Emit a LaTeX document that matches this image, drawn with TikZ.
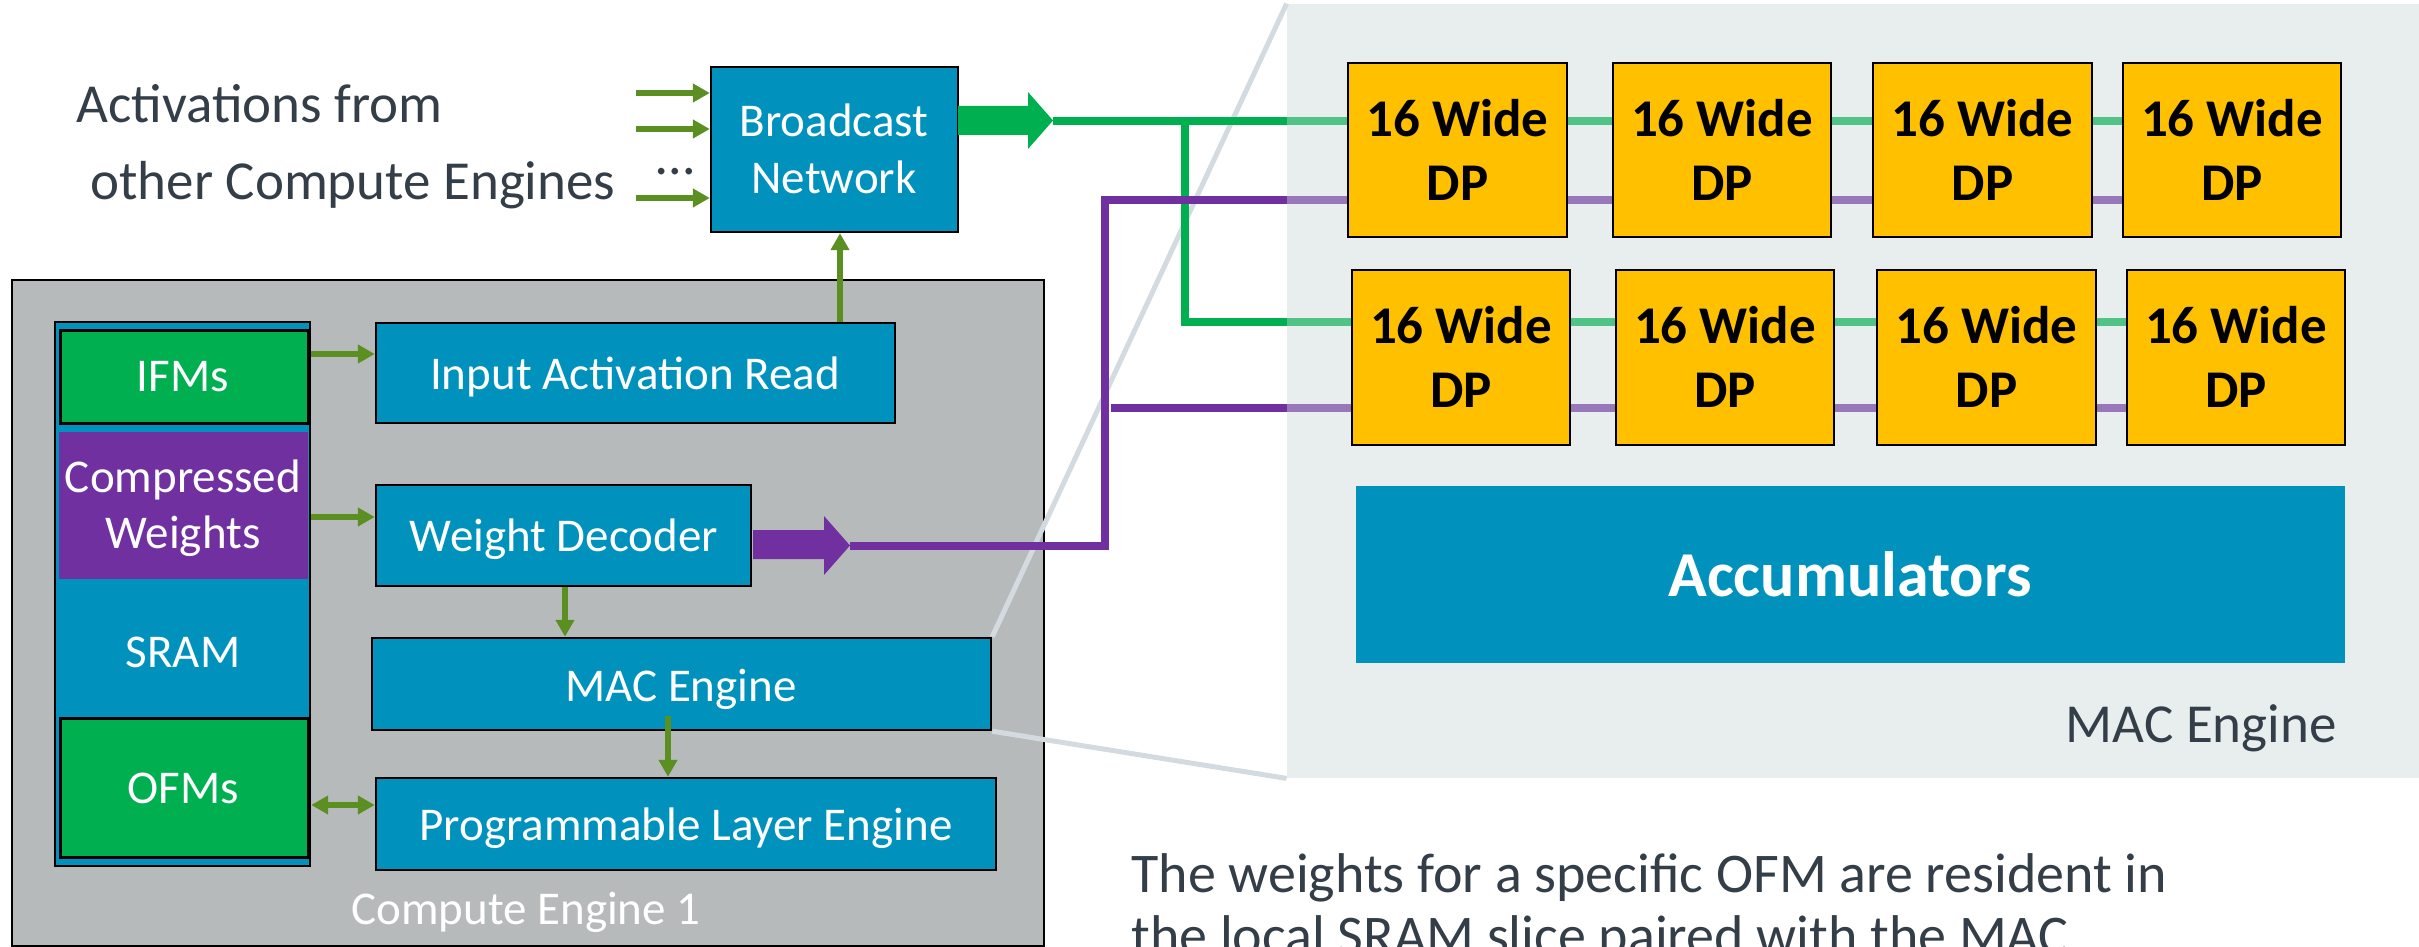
\documentclass[tikz,border=0pt]{standalone}
\usepackage{fontspec}
\setmainfont{Carlito}
\usetikzlibrary{arrows.meta,fit}

\definecolor{cblue}{RGB}{0,146,189}
\definecolor{cgreen}{RGB}{0,176,80}
\definecolor{lgreen}{RGB}{82,195,135}
\definecolor{cpurple}{RGB}{112,48,160}
\definecolor{lpurple}{RGB}{152,120,186}
\definecolor{olive}{RGB}{91,143,34}
\definecolor{cegray}{RGB}{183,186,187}
\definecolor{panelbg}{RGB}{232,238,238}
\definecolor{dpyellow}{RGB}{255,192,0}
\definecolor{slate}{RGB}{52,62,72}
\definecolor{zoomline}{RGB}{212,219,224}

\newcommand\boxfont{\fontsize{23.5pt}{28pt}\selectfont}
\newcommand\dpfont{\bfseries\fontsize{26.5pt}{32pt}\selectfont}
\newcommand\bigfont{\fontsize{27.5pt}{33pt}\selectfont}

\begin{document}
\begin{tikzpicture}[x=0.5pt,y=-0.5pt,
  blk/.style={draw=black, line width=1.2pt, fill=cblue, inner sep=0pt},
  membox/.style={draw=black, line width=1.5pt, fill=cgreen, inner sep=0pt},
  dpbox/.style={draw=black, line width=1.4pt, fill=dpyellow, inner sep=0pt},
  wtxt/.style={text=white, font=\boxfont, anchor=base, inner sep=0pt},
  dptxt/.style={text=black, font=\dpfont, anchor=base, inner sep=0pt},
  stxt/.style={text=slate, font=\bigfont, inner sep=0pt},
  sarrow/.style={olive, line width=3pt, -{Triangle[length=8.5pt,width=9pt]}},
  darrow/.style={olive, line width=3pt, {Triangle[length=8.5pt,width=9pt]}-{Triangle[length=8.5pt,width=9pt]}},
  gline/.style={cgreen, line width=3.6pt},
  glight/.style={lgreen, line width=3.6pt},
  pline/.style={cpurple, line width=4pt},
  plight/.style={lpurple, line width=4pt},
  zline/.style={zoomline, line width=2.5pt}
]
\useasboundingbox (0,0) rectangle (2419,947);

% ---- detail panel of the MAC engine ----
\node[fill=panelbg, inner sep=0pt, fit={(1287,4)(2419,778)}] (panel) {};

% ---- compute engine ----
\node[draw=black, line width=1pt, fill=cegray, inner sep=0pt, fit={(12,280)(1044,946)}] (ce) {};
\node[text=white, font=\boxfont, anchor=base, inner sep=0pt] (celbl) at (526,924) {Compute Engine 1};

% SRAM column
\node[blk, fit={(55,322)(310,866)}] (sram) {};
\node[membox, fit={(60,330)(308,423)}] (ifms) {};
\node[fill=cpurple, inner sep=0pt, fit={(59,432)(308,579)}] (cw) {};
\node[membox, fit={(60,718)(308,857)}] (ofms) {};
\node[wtxt] at (183,391) {IFMs};
\node[wtxt] at (183,492) {Compressed};
\node[wtxt] at (183,548) {Weights};
\node[wtxt] at (183,667) {SRAM};
\node[wtxt] at (183,803) {OFMs};

% engine blocks
\node[blk, fit={(376,323)(895,423)}] (iar) {};
\node[blk, fit={(376,485)(751,586)}] (wd) {};
\node[blk, fit={(372,638)(991,730)}] (mac) {};
\node[blk, fit={(376,778)(996,870)}] (ple) {};
\node[wtxt] at (635,389) {Input Activation Read};
\node[wtxt] at (564,551) {Weight Decoder};
\node[wtxt] at (681,701) {MAC Engine};
\node[wtxt] at (686,840) {Programmable Layer Engine};

% broadcast network
\node[blk, fit={(711,67)(958,232)}] (bcast) {};
\node[wtxt] at (834,137) {Broadcast};
\node[wtxt] at (834,193) {Network};

% ---- helper levels ----
\coordinate (yIn1) at (0,93);
\coordinate (yIn2) at (0,129);
\coordinate (yIn3) at (0,198);
\coordinate (xIn) at (636,0);
\coordinate (yIfm) at (0,354);
\coordinate (yWt) at (0,517);
\coordinate (yOfm) at (0,805);
\coordinate (xUp) at (840,0);
\coordinate (xWd) at (565,0);
\coordinate (macout) at (668,716);
\coordinate (pe) at (1287,0);
\coordinate (gA) at (0,121);
\coordinate (gB) at (0,322);
\coordinate (pA) at (0,200);
\coordinate (pB) at (0,408);

% ---- small olive arrows ----
\draw[sarrow] (xIn |- yIn1) -- (bcast.west |- yIn1);
\draw[sarrow] (xIn |- yIn2) -- (bcast.west |- yIn2);
\draw[sarrow] (xIn |- yIn3) -- (bcast.west |- yIn3);
\draw[sarrow] (sram.east |- yIfm) -- (iar.west |- yIfm);
\draw[sarrow] (sram.east |- yWt) -- (wd.west |- yWt);
\draw[darrow] (sram.east |- yOfm) -- (ple.west |- yOfm);
\draw[sarrow] (xUp |- iar.north) -- (xUp |- bcast.south);
\draw[sarrow] (xWd |- wd.south) -- (xWd |- mac.north);
\draw[sarrow] (macout) -- (macout |- ple.north);

% ---- text on the left ----
\node[stxt, anchor=base west] (act1) at (76,123) {Activations from};
\node[stxt, anchor=base west] (act2) at (90,199) {other Compute Engines};
\node[stxt, anchor=base] (dots) at (675,174) {\dots};

% ---- zoom guide lines ----
\draw[zline] (panel.north west) -- (mac.north east);
\draw[zline] (mac.south east) -- (panel.south west);

% ---- broadcast output (green) ----
\fill[cgreen] (958,106) -- (1028,106) -- (1028,92) -- (1053,120.5) -- (1028,149)
  -- (1028,135) -- (958,135) -- cycle;
\coordinate (gtip) at (1053,121);
\coordinate (gbr) at (1185,121);
\draw[gline] (gtip) -- (pe |- gA);
\draw[gline] (gbr) -- (gbr |- gB) -- (pe |- gB);

% ---- weight decoder output (purple) ----
\fill[cpurple] (753,530) -- (824,530) -- (824,516) -- (850,545.5) -- (824,575)
  -- (824,559) -- (753,559) -- cycle;
\coordinate (ptip) at (850,545.5);
\coordinate (pbr) at (1104.5,545.5);
\draw[pline] (ptip) -- (pbr) -- (pbr |- pA) -- (pe |- pA);
\coordinate (pstart) at (1111,408);
\draw[pline] (pstart) -- (pe |- pB);

% ---- dot-product units ----
\foreach \l/\r/\n in {1348/1567/1,1613/1831/2,1873/2092/3,2123/2341/4}{
  \node[dpbox, fit={(\l,63)(\r,237)}] (dpA\n) {};
  \node[dptxt] at ({(\l+\r)/2},137) {16 Wide};
  \node[dptxt] at ({(\l+\r)/2},200) {DP};
}
\foreach \l/\r/\n in {1352/1570/1,1616/1834/2,1877/2096/3,2127/2345/4}{
  \node[dpbox, fit={(\l,270)(\r,445)}] (dpB\n) {};
  \node[dptxt] at ({(\l+\r)/2},343) {16 Wide};
  \node[dptxt] at ({(\l+\r)/2},407) {DP};
}

% lines inside the panel
\draw[glight] (pe |- gA) -- (dpA1.west |- gA);
\draw[glight] (pe |- gB) -- (dpB1.west |- gB);
\draw[plight] (pe |- pA) -- (dpA1.west |- pA);
\draw[plight] (pe |- pB) -- (dpB1.west |- pB);
\foreach \a/\b in {1/2,2/3,3/4}{
  \draw[glight] (dpA\a.east |- gA) -- (dpA\b.west |- gA);
  \draw[plight] (dpA\a.east |- pA) -- (dpA\b.west |- pA);
  \draw[glight] (dpB\a.east |- gB) -- (dpB\b.west |- gB);
  \draw[plight] (dpB\a.east |- pB) -- (dpB\b.west |- pB);
}

% accumulators
\node[fill=cblue, inner sep=0pt, fit={(1356,486)(2345,663)}] (acc) {};
\node[text=white, font=\bfseries\fontsize{32pt}{38pt}\selectfont, anchor=base, inner sep=0pt] at (1850,596) {Accumulators};

\node[stxt, anchor=base east] (maclbl) at (2337,742) {MAC Engine};

% ---- note ----
\node[stxt, font=\fontsize{28pt}{34pt}\selectfont, anchor=base west] (note1) at (1131,892) {The weights for a specific OFM are resident in};
\node[stxt, font=\fontsize{28pt}{34pt}\selectfont, anchor=base west] (note2) at (1131,954) {the local SRAM slice paired with the MAC};
\end{tikzpicture}
\end{document}
